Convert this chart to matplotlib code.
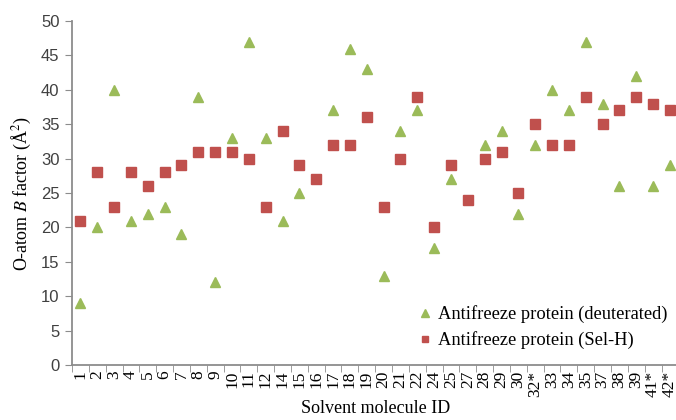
import matplotlib
matplotlib.use("Agg")
import matplotlib.pyplot as plt
import numpy as np

# solvent molecule IDs (x categories)
ids = ['1', '2', '3', '4', '5', '6', '7', '8', '9', '10', '11', '12', '14', '15',
       '16', '17', '18', '19', '20', '21', '22', '24', '25', '27', '28', '29', '30',
       '32*', '33', '34', '35', '37', '38', '39', '41*', '42*']

# O-atom B factors, None = no point
deuterated = [9, 20, 40, 21, 22, 23, 19, 39, 12, 33, 47, 33, 21, 25,
              None, 37, 46, 43, 13, 34, 37, 17, 27, None, 32, 34, 22,
              32, 40, 37, 47, 38, 26, 42, 26, 29]
selh = [21, 28, 23, 28, 26, 28, 29, 31, 31, 31, 30, 23, 34, 29,
        27, 32, 32, 36, 23, 30, 39, 20, 29, 24, 30, 31, 25,
        35, 32, 32, 39, 35, 37, 39, 38, 37]

plt.rcParams['font.family'] = ['Liberation Serif', 'DejaVu Serif']
plt.rcParams['mathtext.fontset'] = 'stix'

green = '#9bbb59'
red = '#c0504d'
spine = '#8c8c8c'

fig = plt.figure(figsize=(6.76, 4.2), dpi=100)
ax = fig.add_axes([0.1065, 0.131, 0.897, 0.819])

x = np.arange(len(ids))
d = np.array([np.nan if v is None else v for v in deuterated], dtype=float)
s = np.array(selh, dtype=float)

ax.plot(x, d, linestyle='none', marker='^', color=green, markersize=7,
        label='Antifreeze protein (deuterated)')
ax.plot(x, s, linestyle='none', marker='s', color=red, markersize=6.5,
        label='Antifreeze protein (Sel-H)')

ax.set_xlim(-0.5, len(ids) - 0.5)
ax.set_ylim(0, 50)
ax.set_yticks(range(0, 51, 5))
ax.set_xticks(x)
ax.set_xticklabels(ids, rotation=90)
ax.set_xticks(np.arange(-0.5, len(ids), 1), minor=True)
ax.tick_params(axis='x', which='major', length=0, pad=4, labelsize=12.5)
ax.tick_params(axis='x', which='minor', length=5, color=spine, direction='out')
ax.tick_params(axis='y', length=5, color=spine, labelsize=12, pad=4,
               labelcolor='#404040')
for lab in ax.get_yticklabels():
    lab.set_family(['Liberation Sans', 'DejaVu Sans'])

for side in ['top', 'right']:
    ax.spines[side].set_visible(False)
for side in ['left', 'bottom']:
    ax.spines[side].set_color(spine)
    ax.spines[side].set_linewidth(1.3)

ax.set_xlabel('Solvent molecule ID', fontsize=13, labelpad=2)
ax.set_ylabel(r'O-atom $\mathit{B}$ factor (Å$^2$)', fontsize=13, labelpad=6)

ax.legend(loc='lower right', frameon=False, fontsize=13.3, handletextpad=0.2,
          borderaxespad=0.3, handlelength=1.0, labelspacing=0.45,
          markerscale=0.75, bbox_to_anchor=(1.004, 0.008))

fig.savefig('out.png', dpi=100)
